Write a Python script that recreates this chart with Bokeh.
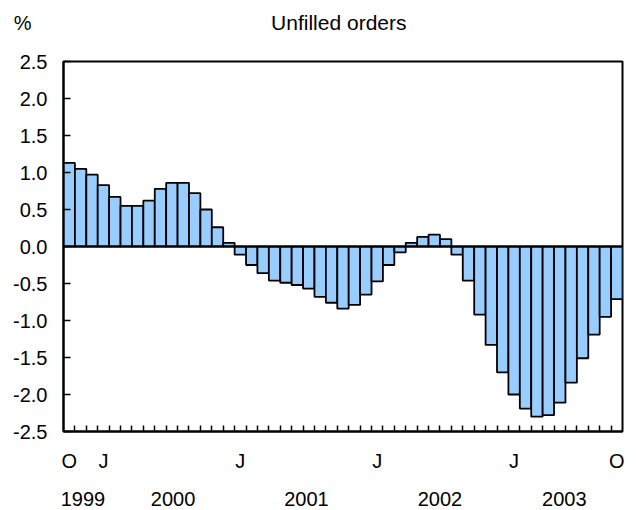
from bokeh.plotting import figure
from bokeh.layouts import column
from bokeh.models import ColumnDataSource, Range1d, FixedTicker, Span, LinearAxis
from bokeh.core.properties import value
from bokeh.embed import file_html
from bokeh.resources import INLINE

# Monthly data, Oct 1999 .. Oct 2003
months = ["1999-10", "1999-11", "1999-12",
          "2000-01", "2000-02", "2000-03", "2000-04", "2000-05", "2000-06",
          "2000-07", "2000-08", "2000-09", "2000-10", "2000-11", "2000-12",
          "2001-01", "2001-02", "2001-03", "2001-04", "2001-05", "2001-06",
          "2001-07", "2001-08", "2001-09", "2001-10", "2001-11", "2001-12",
          "2002-01", "2002-02", "2002-03", "2002-04", "2002-05", "2002-06",
          "2002-07", "2002-08", "2002-09", "2002-10", "2002-11", "2002-12",
          "2003-01", "2003-02", "2003-03", "2003-04", "2003-05", "2003-06",
          "2003-07", "2003-08", "2003-09", "2003-10"]
values = [1.13, 1.05, 0.97,
          0.83, 0.67, 0.55, 0.55, 0.62, 0.78, 0.86, 0.86, 0.72, 0.50, 0.26, 0.05,
          -0.11, -0.25, -0.36, -0.46, -0.49, -0.52, -0.57, -0.68, -0.76, -0.84, -0.79, -0.65,
          -0.47, -0.25, -0.08, 0.05, 0.13, 0.16, 0.10, -0.11, -0.46, -0.92, -1.33, -1.70,
          -2.00, -2.19, -2.30, -2.28, -2.11, -1.84, -1.51, -1.19, -0.95, -0.71]

y_ticks = [-2.5, -2.0, -1.5, -1.0, -0.5, 0.0, 0.5, 1.0, 1.5, 2.0, 2.5]
month_tick_labels = {"1999-10": "O", "2000-01": "J", "2001-01": "J",
                     "2002-01": "J", "2003-01": "J", "2003-10": "O"}
year_labels = ["1999", "2000", "2001", "2002", "2003"]
year_label_pos = [1.2, 9.1, 20.8, 32.5, 43.4]   # in month-index units

title_text = "Unfilled orders"
unit_text = "%"

FONT = "Liberation Sans"
W = 636
HEAD_H = 44
BL, BR = 63, 14
n = len(values)
idx = list(range(n))

# ---- header (unit + title) ----
head = figure(width=W, height=HEAD_H, output_backend="svg", toolbar_location=None,
              x_range=Range1d(BL, W - BR), y_range=Range1d(HEAD_H, 0),
              min_border_left=BL, min_border_right=BR, min_border_top=0, min_border_bottom=0)
head.xaxis.visible = False
head.grid.visible = False
head.outline_line_color = None
head.title.visible = False
hy = head.yaxis[0]
hy.ticker = FixedTicker(ticks=[])
hy.axis_line_color = None
hy.major_tick_line_color = None
hy.minor_tick_line_color = None
hy.major_label_text_font_size = "0px"
hy.axis_label = unit_text
hy.axis_label_orientation = "horizontal"
hy.axis_label_standoff = 32
hy.axis_label_text_font = FONT
hy.axis_label_text_font_size = "20px"
hy.axis_label_text_font_style = "normal"
hy.axis_label_text_color = "black"
head.text(x=[338.3], y=[22], text=[title_text],
          text_align="center", text_baseline="middle",
          text_font=value(FONT), text_font_size="21px", text_color="black")

# ---- main chart ----
p = figure(width=W, height=510 - HEAD_H, output_backend="svg", toolbar_location=None,
           x_range=Range1d(-0.5, n - 0.5), y_range=Range1d(-2.5, 2.5),
           min_border_left=BL, min_border_right=BR, min_border_top=17, min_border_bottom=79)
p.title.visible = False
p.grid.visible = False
p.outline_line_color = "black"
p.outline_line_width = 2
p.outline_line_alpha = 1.0
p.background_fill_color = "white"
p.border_fill_color = "white"

src = ColumnDataSource(dict(x=idx, top=values))
p.vbar(x="x", top="top", bottom=0, width=1.0, source=src,
       fill_color="#99CCFF", line_color="black", line_width=1.8)
p.add_layout(Span(location=0, dimension="width", line_color="black", line_width=2))

ya = p.yaxis[0]
ya.ticker = FixedTicker(ticks=y_ticks)
ya.major_label_overrides = {t: f"{t:.1f}" for t in y_ticks}
ya.major_tick_in = 7
ya.major_tick_out = 0
ya.minor_tick_line_color = None
ya.axis_line_width = 2
ya.major_tick_line_width = 1.5
ya.major_label_text_font = FONT
ya.major_label_text_font_size = "20px"
ya.major_label_text_color = "black"
ya.major_label_standoff = 16

# month letters (major) + month boundary ticks (minor)
mx = [months.index(m) for m in month_tick_labels]
xa = p.xaxis[0]
xa.ticker = FixedTicker(ticks=mx, minor_ticks=[i + 0.5 for i in range(n - 1)])
xa.major_label_overrides = {x: t for x, t in zip(mx, month_tick_labels.values())}
xa.major_tick_line_color = None
xa.major_tick_in = 0
xa.major_tick_out = 0
xa.minor_tick_in = 6
xa.minor_tick_out = 0
xa.minor_tick_line_width = 1.5
xa.minor_tick_line_color = "black"
xa.axis_line_width = 2
xa.major_label_standoff = 18
xa.major_label_text_font = FONT
xa.major_label_text_font_size = "20px"
xa.major_label_text_color = "black"

# years
ya2 = LinearAxis(ticker=FixedTicker(ticks=year_label_pos),
                 major_label_overrides={x: t for x, t in zip(year_label_pos, year_labels)})
ya2.axis_line_color = None
ya2.major_tick_line_color = None
ya2.minor_tick_line_color = None
ya2.major_tick_in = 0
ya2.major_tick_out = 0
ya2.major_label_standoff = 17
ya2.major_label_text_font = FONT
ya2.major_label_text_font_size = "20px"
ya2.major_label_text_color = "black"
p.add_layout(ya2, "below")

layout = column(head, p, spacing=0)
open("out.html", "w").write(file_html(layout, INLINE))
